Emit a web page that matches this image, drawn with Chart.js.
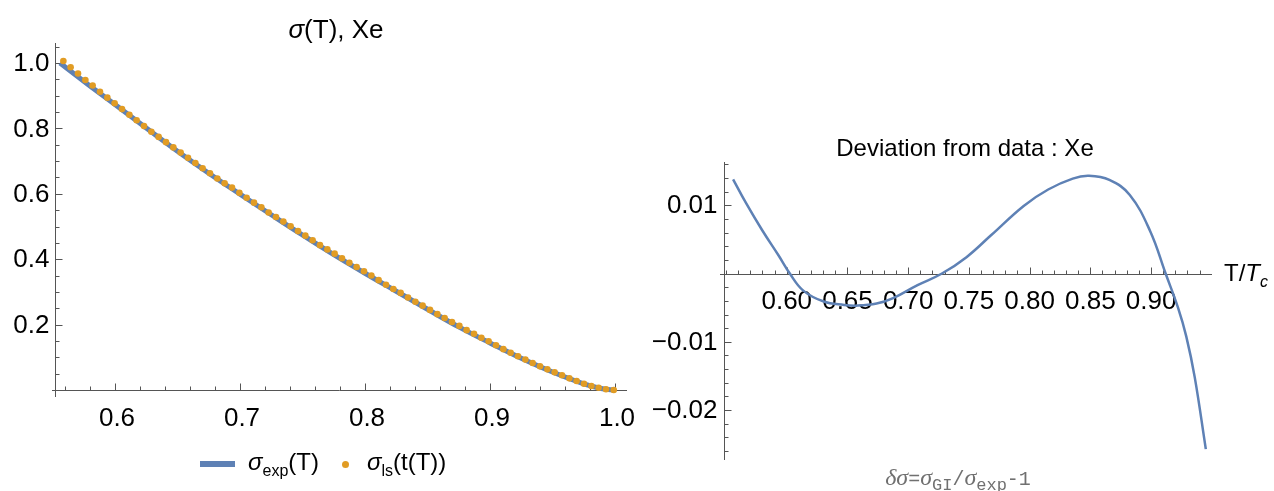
<!DOCTYPE html>
<html><head><meta charset="utf-8">
<script src="https://cdn.jsdelivr.net/npm/chart.js@4/dist/chart.umd.min.js"></script>
<style>
html,body{margin:0;padding:0;background:#fff;width:1274px;height:491px;overflow:hidden;font-family:"Liberation Sans",Arial,sans-serif;}
#wrapL{position:absolute;left:0;top:0;width:640px;height:491px;}
#wrapR{position:absolute;left:640px;top:0;width:634px;height:491px;}
.txt{position:absolute;white-space:nowrap;color:#000;line-height:1;}
.sub{font-size:16px;position:relative;top:6px;}
.ser{font-family:"Liberation Serif","DejaVu Serif",serif;font-style:italic;}
</style></head><body>
<div id="wrapL"><canvas id="cL" width="640" height="491"></canvas></div>
<div id="wrapR"><canvas id="cR" width="634" height="491"></canvas></div>

<div class="txt" style="left:336px;top:29px;transform:translate(-50%,-50%);font-size:26px;"><i>σ</i>(T), Xe</div>
<div class="txt" style="left:965px;top:148px;transform:translate(-50%,-50%);font-size:24px;">Deviation from data : Xe</div>

<div style="position:absolute;left:200px;top:461px;width:35px;height:6px;background:#5E81B5;"></div>
<div class="txt" style="left:248px;top:462px;transform:translateY(-50%);font-size:24px;"><i>σ</i><span class="sub">exp</span>(T)</div>
<div style="position:absolute;left:342px;top:461px;width:7px;height:7px;border-radius:4px;background:#E19C24;"></div>
<div class="txt" style="left:367px;top:462px;transform:translateY(-50%);font-size:24px;"><i>σ</i><span class="sub">ls</span>(t(T))</div>

<div class="txt" style="left:1224px;top:273px;transform:translateY(-50%);font-size:24px;">T/<i>T</i><span class="sub"><i>c</i></span></div>

<div class="txt" style="left:958px;top:477px;transform:translate(-50%,-50%);font-size:20px;color:#707070;font-family:'Liberation Mono','DejaVu Sans Mono',monospace;"><span class="ser" style="font-size:24px;">δσ</span>=<span class="ser" style="font-size:24px;">σ</span><span style="font-size:17px;position:relative;top:5px;">GI</span>/<span class="ser" style="font-size:24px;">σ</span><span style="font-size:17px;position:relative;top:5px;">exp</span>-1</div>

<script>
// ---------- data ----------
// left panel: surface tension sigma(T) (normalized), Xe
const expT      = [0.556,0.580,0.600,0.625,0.650,0.675,0.700,0.725,0.750,0.775,0.800,0.825,0.850,0.875,0.900,0.925,0.950,0.975,0.990,1.000];
const sigmaExp  = [1.000,0.930,0.873,0.801,0.730,0.663,0.599,0.536,0.474,0.414,0.357,0.302,0.247,0.193,0.144,0.097,0.055,0.019,0.004,0.000];

const lsT = [0.5587,0.5645,0.5704,0.5763,0.5821,0.5880,0.5939,0.5997,0.6056,0.6115,
             0.6173,0.6232,0.6291,0.6349,0.6408,0.6467,0.6525,0.6584,0.6643,0.6701,
             0.6760,0.6819,0.6877,0.6936,0.6995,0.7053,0.7112,0.7171,0.7229,0.7288,
             0.7347,0.7405,0.7464,0.7523,0.7581,0.7640,0.7699,0.7757,0.7816,0.7875,
             0.7933,0.7992,0.8051,0.8109,0.8168,0.8227,0.8285,0.8344,0.8403,0.8461,
             0.8520,0.8579,0.8637,0.8696,0.8755,0.8813,0.8872,0.8931,0.8989,0.9048,
             0.9107,0.9165,0.9224,0.9283,0.9341,0.9400,0.9459,0.9517,0.9576,0.9635,
             0.9693,0.9752,0.9811,0.9869,0.9928,0.9990];
const sigmaLs = [1.006,0.987,0.968,0.948,0.931,0.912,0.894,0.877,0.859,0.842,
                 0.825,0.807,0.790,0.774,0.758,0.742,0.726,0.710,0.694,0.678,
                 0.663,0.647,0.632,0.619,0.603,0.588,0.573,0.559,0.543,0.529,
                 0.515,0.501,0.486,0.472,0.458,0.443,0.430,0.417,0.403,0.389,
                 0.376,0.363,0.350,0.336,0.322,0.309,0.297,0.283,0.270,0.258,
                 0.245,0.232,0.220,0.208,0.196,0.183,0.172,0.160,0.149,0.137,
                 0.125,0.114,0.103,0.093,0.0826,0.0724,0.0632,0.0540,0.0449,0.0357,
                 0.0275,0.0193,0.0122,0.0071,0.0021,0.0];

// right panel: deviation sigma_GI/sigma_exp - 1
const devT   = [0.5558,0.5665,0.5799,0.5934,0.6025,0.6136,0.6304,0.6472,0.6572,0.6740,
                0.6876,0.7077,0.7278,0.7480,0.7682,0.7951,0.8153,0.8355,0.8489,0.8657,
                0.8825,0.8993,0.9120,0.9222,0.9290,0.9360,0.9451];
const devVal = [0.0138,0.0103,0.0063,0.0026,0.0000,-0.0025,-0.0041,-0.0046,-0.0047,-0.0044,
                -0.0036,-0.0017,0.0000,0.0024,0.0056,0.0099,0.0123,0.0139,0.0143,0.0137,
                0.0115,0.0062,0.0000,-0.0050,-0.0092,-0.0152,-0.0257];

// tick labels
const leftXTicks  = [0.6,0.7,0.8,0.9,1.0];
const leftYTicks  = [0.2,0.4,0.6,0.8,1.0];
const rightXTicks = [0.60,0.65,0.70,0.75,0.80,0.85,0.90];
const rightYTicks = [-0.02,-0.01,0.01];

// ---------- styling ----------
const BLUE = '#5E81B5', ORANGE = '#E19C24', AXIS = '#555555';
const TICKFONT = '26px "Liberation Sans", Arial, sans-serif';

function range(a, b, s){ const r=[]; for(let v=a; v<=b+s*1e-6; v+=s) r.push(+v.toFixed(6)); return r; }

function axesPlugin(o){
  return {
    id: 'mmaAxes',
    beforeDatasetsDraw(chart){
      const {ctx, chartArea:a, scales:{x, y}} = chart;
      ctx.save();
      ctx.strokeStyle = AXIS; ctx.lineWidth = 1;
      const y0 = Math.round(y.getPixelForValue(0)) + 0.5;
      const x0 = Math.round(a.left) + 0.5;
      ctx.beginPath();
      ctx.moveTo(a.left - o.xAxisOver, y0); ctx.lineTo(a.right, y0);
      ctx.moveTo(x0, a.top); ctx.lineTo(x0, a.bottom);
      ctx.stroke();
      ctx.beginPath();
      o.xMinor.forEach(v => { const p = Math.round(x.getPixelForValue(v))+0.5; if(p>a.left+1 && p<=a.right){ ctx.moveTo(p,y0); ctx.lineTo(p,y0-4);} });
      o.xMajor.forEach(v => { const p = Math.round(x.getPixelForValue(v))+0.5; ctx.moveTo(p,y0); ctx.lineTo(p,y0-7); });
      o.yMinor.forEach(v => { const p = Math.round(y.getPixelForValue(v))+0.5; if(p>=a.top && p<=a.bottom){ ctx.moveTo(x0,p); ctx.lineTo(x0+4,p);} });
      o.yMajor.forEach(v => { const p = Math.round(y.getPixelForValue(v))+0.5; ctx.moveTo(x0,p); ctx.lineTo(x0+7,p); });
      ctx.stroke();
      ctx.fillStyle = '#000'; ctx.font = TICKFONT;
      ctx.textAlign = 'center'; ctx.textBaseline = 'middle';
      o.xMajor.forEach(v => ctx.fillText(o.xFmt(v), x.getPixelForValue(v) + o.xLabelDx, y0 + o.xLabelDy));
      ctx.textAlign = 'right';
      o.yMajor.forEach(v => ctx.fillText(o.yFmt(v), x0 - o.yLabelGap, y.getPixelForValue(v) + 1));
      ctx.restore();
    }
  };
}

const fmtMinus = s => s.replace('-', '\u2212');

// ---------- left chart ----------
new Chart(document.getElementById('cL'), {
  type: 'line',
  data: {
    datasets: [
      { data: lsT.map((t,i)=>({x:t, y:sigmaLs[i]})), showLine:false, pointRadius:3.3,
        pointBackgroundColor:ORANGE, pointBorderWidth:0, order:1 },
      { data: expT.map((t,i)=>({x:t, y:sigmaExp[i]})), borderColor:BLUE, borderWidth:5,
        pointRadius:0, tension:0.4, fill:false, order:2 }
    ]
  },
  options: {
    responsive:false, animation:false, devicePixelRatio:1,
    layout:{ padding:{ left:55, right:13, top:43, bottom:94 } },
    plugins:{ legend:{display:false}, tooltip:{enabled:false}, title:{display:false} },
    scales:{
      x:{ type:'linear', display:false, min:0.552, max:1.0096 },
      y:{ type:'linear', display:false, min:-0.0214, max:1.0612 }
    }
  },
  plugins:[ axesPlugin({
    xAxisOver:3,
    xMajor:leftXTicks, xMinor:range(0.56,1.0,0.02),
    yMajor:leftYTicks, yMinor:range(0.05,1.05,0.05),
    xFmt:v=>v.toFixed(1), yFmt:v=>v.toFixed(1),
    xLabelDx:2, xLabelDy:28, yLabelGap:6
  }) ]
});

// ---------- right chart ----------
new Chart(document.getElementById('cR'), {
  type: 'line',
  data: {
    datasets: [
      { data: devT.map((t,i)=>({x:t, y:devVal[i]})), borderColor:BLUE, borderWidth:2.5,
        pointRadius:0, tension:0.4, fill:false }
    ]
  },
  options: {
    responsive:false, animation:false, devicePixelRatio:1,
    layout:{ padding:{ left:84, right:62, top:162, bottom:31 } },
    plugins:{ legend:{display:false}, tooltip:{enabled:false}, title:{display:false} },
    scales:{
      x:{ type:'linear', display:false, min:0.5483, max:0.9502 },
      y:{ type:'linear', display:false, min:-0.0273, max:0.01633 }
    }
  },
  plugins:[ axesPlugin({
    xAxisOver:4,
    xMajor:rightXTicks, xMinor:range(0.55,0.94,0.01),
    yMajor:rightYTicks, yMinor:range(-0.026,0.016,0.002),
    xFmt:v=>v.toFixed(2), yFmt:v=>fmtMinus(v.toFixed(2)),
    xLabelDx:0, xLabelDy:27, yLabelGap:7
  }) ]
});
</script>
</body></html>
